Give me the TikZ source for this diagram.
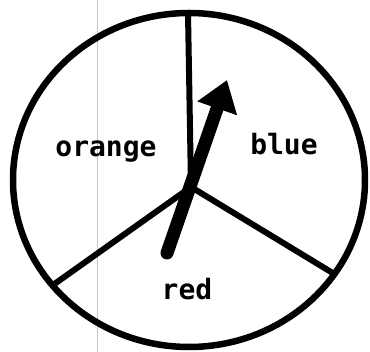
\documentclass[tikz,border=0pt]{standalone}
\usepackage{fontspec}
\setmonofont{DejaVu Sans Mono}
\usetikzlibrary{arrows.meta}

\begin{document}
\begin{tikzpicture}[
    x=1pt, y=1pt,
    every node/.style={font=\fontsize{28}{30}\selectfont\ttfamily\bfseries},
    rim/.style={draw, line width=6.5pt},
    spoke/.style={line width=6pt},
    arr/.style={-{Triangle[length=30pt, width=40pt]}, line width=13pt, line cap=round},
    lbl/.style={anchor=base, inner sep=0pt}
]
    \useasboundingbox (0,0) rectangle (370,352);
    % scan line
    \draw[black!22, line width=0.9pt] (97.5,0) -- (97.5,352);
    % spinner
    \draw[rim] (189,172) ellipse [x radius=176, y radius=167];
    \coordinate (hub) at (191,165);
    \coordinate (top) at (188,339);
    \coordinate (left) at (53,67);
    \coordinate (right) at (336,77);
    \draw[spoke] (top) -- (hub);
    \draw[spoke] (left) -- (hub) -- (right);
    % labels
    \node[lbl] (orange) at (106,195) {orange};
    \node[lbl] (blue) at (284,197) {blue};
    \node[lbl] (red) at (187,52) {red};
    % pointer
    \coordinate (tail) at (167,99);
    \coordinate (tip) at (227,272);
    \draw[arr] (tail) -- (tip);
\end{tikzpicture}
\end{document}
